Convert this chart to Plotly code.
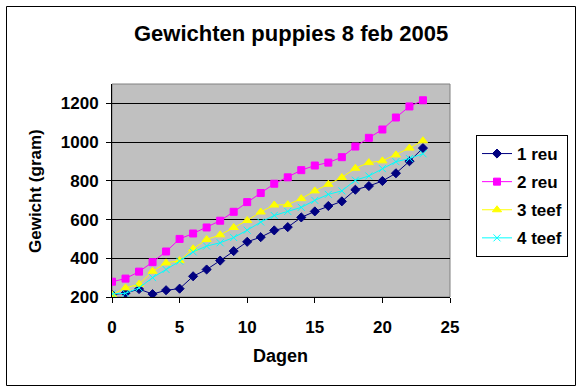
import plotly.graph_objects as go

days = list(range(24))
reu1 = [212, 220, 241, 215, 235, 243, 307, 342, 388, 437, 485, 509, 544, 561, 611, 642, 670, 694, 754, 773, 799, 839, 901, 969]
reu2 = [279, 295, 331, 380, 435, 500, 528, 559, 594, 640, 690, 737, 785, 818, 855, 879, 894, 922, 977, 1022, 1065, 1127, 1184, 1216]
teef3 = [212, 247, 266, 333, 376, 388, 449, 497, 521, 559, 595, 639, 675, 677, 708, 748, 782, 817, 865, 894, 903, 934, 969, 1007]
teef4 = [216, 219, 247, 300, 342, 385, 433, 463, 480, 507, 545, 587, 621, 642, 663, 699, 730, 748, 803, 825, 863, 899, 915, 940]
names = ["1 reu", "2 reu", "3 teef", "4 teef"]
colors = ["#000080", "#FF00FF", "#FFFF00", "#00FFFF"]
symbols = ["diamond", "square", "triangle-up", "x-thin-open"]
sizes = [7, 7, 8, 7]

title = "Gewichten puppies 8 feb 2005"
xtitle = "Dagen"
ytitle = "Gewicht (gram)"

FONT = "Arial, Liberation Sans, sans-serif"

fig = go.Figure()
for name, ys, c, s, sz in zip(names, [reu1, reu2, teef3, teef4], colors, symbols, sizes):
    fig.add_trace(go.Scatter(
        x=days, y=ys, name=name, mode="lines+markers", legendgroup=name,
        line=dict(color=c, width=1),
        marker=dict(symbol=s, size=sz, color=c, line=dict(color=c, width=1)),
    ))

W, H = 582, 391
L, R, T, B = 112, 450, 84, 297
pw, ph = R - L, B - T

def px(x):
    return (x - L) / pw

def py(y):
    return (B - y) / ph

fig.update_layout(
    width=W, height=H,
    margin=dict(l=L, r=W - R, t=T, b=H - B),
    paper_bgcolor="white",
    plot_bgcolor="#C0C0C0",
    font=dict(family=FONT, color="black", size=15),
    showlegend=True,
    legend=dict(
        x=px(476), y=py(135), xanchor="left", yanchor="top",
        bordercolor="black", borderwidth=1, bgcolor="white",
        font=dict(family=FONT, size=17, weight="bold"),
        itemwidth=30, tracegroupgap=3,
    ),
    xaxis=dict(
        range=[0, 25], tickvals=[0, 5, 10, 15, 20, 25],
        showgrid=False, zeroline=False,
        showline=True, linecolor="black", linewidth=1,
        ticks="outside", ticklen=5, tickcolor="black",
        tickfont=dict(family=FONT, size=17, weight="bold"),
        ticklabelstandoff=10,
    ),
    yaxis=dict(
        range=[200, 1300], tickvals=[200, 400, 600, 800, 1000, 1200],
        showgrid=True, gridcolor="black", gridwidth=1, zeroline=False,
        showline=True, linecolor="black", linewidth=1,
        ticks="outside", ticklen=5, tickcolor="black",
        tickfont=dict(family=FONT, size=17, weight="bold"),
        ticklabelstandoff=4,
    ),
    shapes=[
        dict(type="rect", xref="paper", yref="paper", x0=0, x1=1, y0=0, y1=1,
             line=dict(color="#808080", width=1), layer="below"),
        dict(type="rect", xref="paper", yref="paper",
             x0=px(6.5), x1=px(575.5), y0=py(385.5), y1=py(6.5),
             line=dict(color="black", width=1)),
    ],
    annotations=[
        dict(text=title, xref="paper", yref="paper", x=px(291), y=py(34),
             xanchor="center", yanchor="middle", showarrow=False,
             font=dict(family=FONT, size=22, weight="bold")),
        dict(text=xtitle, xref="paper", yref="paper", x=px(280), y=py(356),
             xanchor="center", yanchor="middle", showarrow=False,
             font=dict(family=FONT, size=18, weight="bold")),
        dict(text=ytitle, xref="paper", yref="paper", x=px(35), y=py(191),
             xanchor="center", yanchor="middle", showarrow=False, textangle=-90,
             font=dict(family=FONT, size=17, weight="bold")),
    ],
)

fig.write_html(
    "out.html",
    config={"displayModeBar": False},
    post_script="document.body.style.margin='0';document.body.style.overflow='hidden';",
)
